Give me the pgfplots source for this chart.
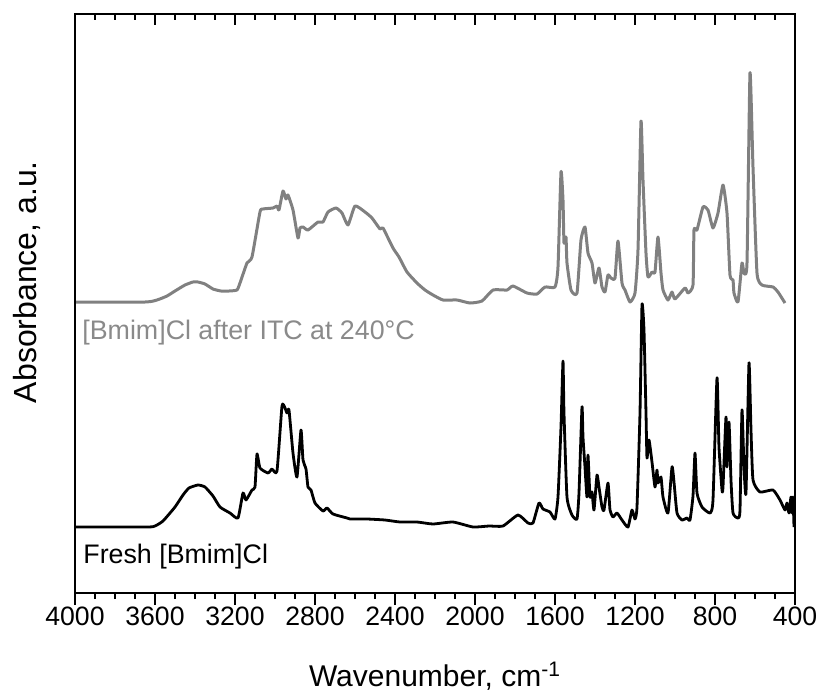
\documentclass[border=0pt]{standalone}
\usepackage{pgfplots}
\pgfplotsset{compat=1.18}
\usepackage{fontspec}
\setmainfont{Liberation Sans}
\definecolor{grayline}{RGB}{128,128,128}
\definecolor{graytext}{RGB}{138,138,138}
\begin{document}
\begin{tikzpicture}
\useasboundingbox (0,0) rectangle (410pt,346.5pt);
\pgfplotsset{
  commonax/.style={
    at={(37.5pt,50pt)}, anchor=south west,
    scale only axis, width=360pt, height=289.5pt,
    x dir=reverse, xmin=400, xmax=4000, ymin=7, ymax=586,
    xtick={400,800,...,4000}, minor x tick num=3,
    ytick=\empty,
    axis line style={line width=1.2pt, black},
    tick style={line width=1.1pt, black},
    major tick length=6pt, minor tick length=3pt,
    /pgf/number format/assume math mode=true,
    /pgf/number format/1000 sep={},
    tick label style={font=\fontsize{13.3}{16}\selectfont},
  }
}
\begin{axis}[commonax,
  xtick pos=lower, tick align=outside,
  xticklabel style={anchor=base, yshift=-10pt},
  xlabel={Wavenumber, cm\textsuperscript{-1}},
  xlabel style={font=\fontsize{15}{18}\selectfont, at={(axis description cs:0.5,-0.162)}, anchor=base},
  ylabel={Absorbance, a.u.},
  ylabel style={font=\fontsize{16}{19}\selectfont, at={(axis description cs:-0.0667,0.537)}, anchor=center},
]
\addplot[color=grayline, line width=1.5pt, line join=round, smooth, tension=0.3] coordinates {
(4000,298)(3650,298)(3590,300)(3540,304)(3500,309)(3450,315)(3410,318)(3385,318)(3350,316)(3310,311)(3270,309)
(3230,309)(3190,310)(3175,317)
(3140,337)(3115,343)(3075,388)(3060,391)(3010,392)(2990,394)(2980,390)(2960,409)(2945,401)(2935,405)(2910,390)
(2885,362)(2875,372)(2860,373)(2835,370)(2785,378)(2760,378)(2735,388)(2695,392)(2665,387)(2635,375)(2600,394)
(2550,388)(2515,382)(2475,371)(2460,372)(2410,352)(2380,343)(2340,328)(2290,317)(2250,310)(2210,305)(2160,300)
(2090,300)(2025,297)
(1965,299)(1910,310)(1840,310)(1810,314)(1740,307)(1690,306)(1650,313)(1600,313)(1585,333)(1570,428)(1560,400)
(1555,357)(1545,363)(1540,337)(1520,310)(1490,307)(1470,360)(1450,373)(1435,347)(1415,337)(1400,317)(1380,332)
(1365,313)(1350,308)(1335,325)(1320,322)(1300,322)(1285,359)(1265,317)(1250,310)(1225,298)(1200,307)(1185,350)
(1170,479)(1160,420)(1145,347)(1135,323)(1115,328)(1100,328)(1085,363)(1070,327)(1060,310)(1035,300)(1015,308)
(1000,301)(950,312)(935,307)(910,315)(905,370)(890,370)(860,393)(835,390)(810,372)(785,387)(760,415)(740,387)
(725,325)(710,320)(705,307)(685,298)(665,337)(655,327)(640,337)(625,527)(610,433)(590,327)(565,315)(510,313)
(485,308)(450,297)
};
\addplot[color=black, line width=1.4pt, line join=round, smooth, tension=0.3] coordinates {
(4000,73)(3640,73)(3600,74)(3560,79)(3500,93)(3460,105)(3430,112)(3385,115)(3350,113)(3310,104)(3275,93)
(3225,87)(3185,82)(3160,107)(3145,100)
(3115,110)(3100,113)(3090,146)(3075,132)(3035,127)(3015,131)(2990,129)(2965,194)(2950,192)(2940,187)(2930,190)
(2910,147)(2890,123)(2870,170)(2860,140)(2845,131)(2835,113)(2820,110)(2800,97)(2760,89)(2740,92)(2710,86)
(2640,82)(2625,81)(2540,81)(2450,80)(2375,78)(2290,78)(2210,76)(2110,78)(2010,73)(1930,74)(1860,74)(1785,85)
(1735,77)(1710,77)(1680,97)
(1660,91)(1625,88)(1600,81)(1585,103)(1570,173)(1560,239)(1555,187)(1540,103)(1515,85)(1490,81)(1480,107)
(1465,193)(1460,163)(1450,133)(1440,103)(1435,145)(1425,103)(1415,108)(1405,90)(1390,125)(1380,113)(1365,93)
(1355,90)(1335,117)(1325,90)(1310,83)(1290,87)(1265,80)(1235,73)(1215,90)(1200,81)(1190,93)(1175,187)(1165,295)
(1155,270)(1145,187)(1140,142)(1130,160)(1115,138)(1100,113)(1090,130)(1085,117)(1070,123)(1060,103)(1035,87)
(1015,133)(1005,118)(990,87)(965,80)(940,82)(925,80)(910,104)(900,147)(890,107)(865,93)(825,87)(810,100)
(790,222)(780,153)(765,110)(760,113)(745,183)(740,133)(730,178)(720,120)(710,87)(685,82)(675,90)(665,190)
(655,133)(645,107)(630,237)(620,170)(610,120)(575,108)(510,110)(475,100)(450,90)(440,97)(430,87)(420,103)
(415,87)(410,103)(405,73)
};
\node[anchor=base west, text=graytext, font=\fontsize{13.4}{16}\selectfont, inner sep=0pt] at (axis cs:3965,261) {[Bmim]Cl after ITC at 240°C};
\node[anchor=base west, text=black, font=\fontsize{13.4}{16}\selectfont, inner sep=0pt] at (axis cs:3960,37) {Fresh [Bmim]Cl};
\end{axis}
\begin{axis}[commonax,
  xtick pos=upper, tick align=inside,
  xticklabels={}, major tick length=5.5pt,
]
\end{axis}
\end{tikzpicture}
\end{document}
